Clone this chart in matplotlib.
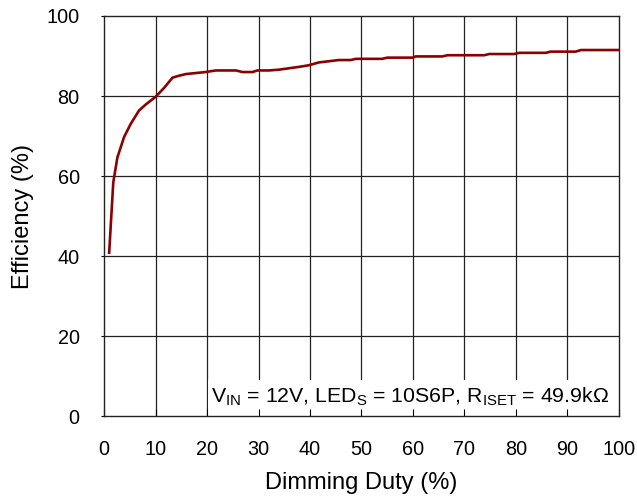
import numpy as np
import matplotlib
matplotlib.use('Agg')
import matplotlib.pyplot as plt
from matplotlib.patches import Rectangle

plt.rcParams['font.family'] = ['Liberation Sans', 'DejaVu Sans']
plt.rcParams['mathtext.fontset'] = 'custom'
plt.rcParams['mathtext.rm'] = 'Liberation Sans'

# efficiency vs dimming duty
duty = [1, 1.8, 2.6, 3.9, 5.2, 6.8, 8.1, 10, 11.7, 13.3, 14.6, 15.9, 19.7, 21.7,
        25.6, 26.9, 28.8, 29.8, 32, 34, 37.9, 39.8, 41.7, 45.6, 47.9, 48.9, 54,
        55, 59.9, 60.5, 65.7, 66.7, 73.8, 74.8, 79.6, 80.6, 85.8, 86.7, 91.6,
        92.6, 100]
efficiency = [40.9, 58.5, 64.7, 69.8, 73.1, 76.4, 77.9, 79.8, 82.1, 84.6, 85.1,
              85.5, 86.0, 86.4, 86.4, 86.0, 86.0, 86.4, 86.4, 86.6, 87.3, 87.7,
              88.4, 89.0, 89.0, 89.3, 89.3, 89.6, 89.6, 89.9, 89.9, 90.2, 90.2,
              90.5, 90.5, 90.8, 90.8, 91.1, 91.1, 91.5, 91.5]
xticks = list(range(0, 101, 10))
yticks = list(range(0, 101, 20))

fig = plt.figure(figsize=(6.37, 4.98), dpi=100)
ax = fig.add_axes([0.1633, 0.1637, 0.8084, 0.8042])

for xv in xticks[1:-1]:
    ax.axvline(xv, color='#222222', lw=0.9, zorder=1)
for yv in yticks[1:-1]:
    ax.axhline(yv, color='#222222', lw=0.9, zorder=1)

# white patch behind the condition text
ax.add_patch(Rectangle((20.2, 0), 79.8, 9, facecolor='white', edgecolor='none', zorder=1.5))

ax.plot(duty, efficiency, color='#8B0000', lw=1.9, zorder=3)

ax.text(20.7, 3.6,
        r'V$_{\mathregular{IN}}$ = 12V, LED$_{\mathregular{S}}$ = 10S6P, R$_{\mathregular{ISET}}$ = 49.9k$\Omega$',
        fontsize=15.3, ha='left', va='baseline', zorder=4)

ax.set_xlim(0, 100)
ax.set_ylim(0, 100)
ax.set_xticks(xticks)
ax.set_yticks(yticks)
ax.tick_params(axis='x', direction='in', length=5, labelsize=14.3, pad=17)
ax.tick_params(axis='y', direction='out', length=2, labelsize=14.3, pad=15.5)
for s in ax.spines.values():
    s.set_linewidth(1.0)
    s.set_color('#222222')

ax.set_xlabel('Dimming Duty (%)', fontsize=17, labelpad=9)
ax.set_ylabel('Efficiency (%)', fontsize=17, labelpad=9)

fig.savefig('out.png', dpi=100)
